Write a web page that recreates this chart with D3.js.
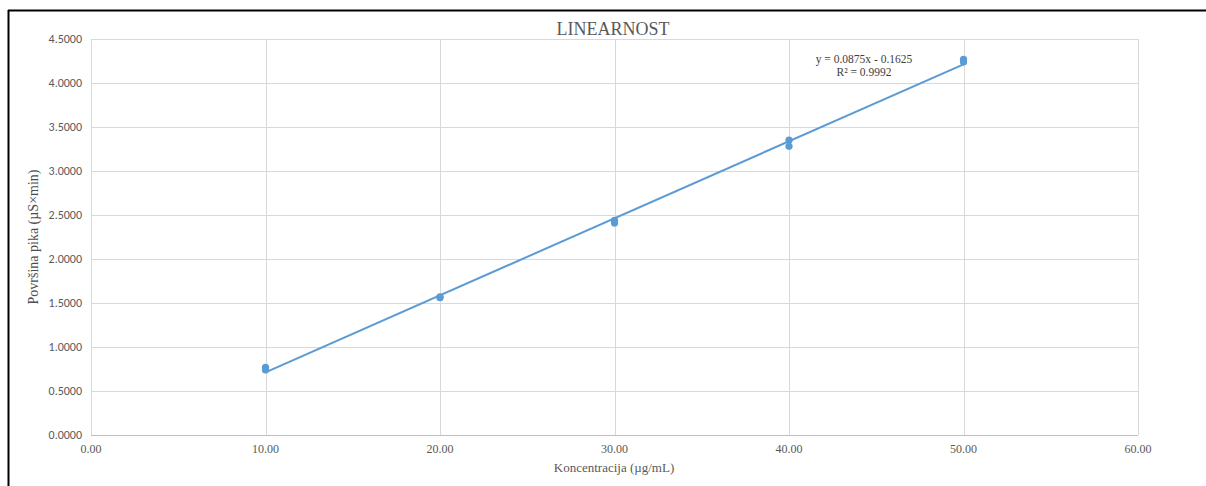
<!DOCTYPE html>
<html>
<head>
<meta charset="utf-8">
<script src="https://cdn.jsdelivr.net/npm/d3@7/dist/d3.min.js"></script>
<style>
  body { margin: 0; background: #fff; }
  svg { display: block; }
</style>
</head>
<body>
<div id="chart"></div>
<script>
// measured points (concentration, peak area)
const conc = [10, 10, 20, 20, 30, 30, 40, 40, 50, 50];
const area = [0.77, 0.74, 1.57, 1.56, 2.44, 2.41, 3.35, 3.28, 4.27, 4.24];
const slope = 0.0875;
const intercept = -0.1625;
const eqText = ["y = 0.0875x - 0.1625", "R\u00b2 = 0.9992"];
const xTicks = [0, 10, 20, 30, 40, 50, 60];
const yTicks = [0, 0.5, 1, 1.5, 2, 2.5, 3, 3.5, 4, 4.5];

const W = 1206, H = 486;
const plotL = 91, plotR = 1138, plotT = 39, plotB = 435;

var svg = d3.select("#chart").append("svg")
  .attr("width", W).attr("height", H);

// frame (top + left border)
svg.append("line").attr("x1", 8).attr("x2", W).attr("y1", 10.5).attr("y2", 10.5)
  .attr("stroke", "#000").attr("stroke-width", 2);
svg.append("line").attr("x1", 8.5).attr("x2", 8.5).attr("y1", 10).attr("y2", H)
  .attr("stroke", "#000").attr("stroke-width", 2);

var x = d3.scaleLinear().domain([0, 60]).range([plotL, plotR]);
var y = d3.scaleLinear().domain([0, 4.5]).range([plotB, plotT]);

// gridlines
svg.append("g").selectAll("line").data(yTicks).join("line")
  .attr("x1", plotL).attr("x2", plotR)
  .attr("y1", d => Math.round(y(d)) + 0.5).attr("y2", d => Math.round(y(d)) + 0.5)
  .attr("stroke", d => d === 0 ? "#bfbfbf" : "#d9d9d9").attr("stroke-width", 1);
svg.append("g").selectAll("line").data(xTicks).join("line")
  .attr("x1", d => Math.round(x(d)) + 0.5).attr("x2", d => Math.round(x(d)) + 0.5)
  .attr("y1", plotT).attr("y2", plotB)
  .attr("stroke", "#d9d9d9").attr("stroke-width", 1);

// tick labels
svg.append("g").selectAll("text").data(yTicks).join("text")
  .attr("x", 82).attr("y", d => y(d) + 4)
  .attr("text-anchor", "end")
  .attr("font-family", "Carlito, 'Liberation Sans', sans-serif")
  .attr("font-size", 12).attr("fill", "#595959")
  .text(d => d.toFixed(4));
svg.append("g").selectAll("text").data(xTicks).join("text")
  .attr("x", d => x(d)).attr("y", 453)
  .attr("text-anchor", "middle")
  .attr("font-family", "'Liberation Serif', 'Times New Roman', serif")
  .attr("font-size", 12).attr("fill", "#595959")
  .text(d => d.toFixed(2));

// trendline
var xExt = d3.extent(conc);
svg.append("line")
  .attr("x1", x(xExt[0])).attr("y1", y(slope * xExt[0] + intercept))
  .attr("x2", x(xExt[1])).attr("y2", y(slope * xExt[1] + intercept))
  .attr("stroke", "#5b9bd5").attr("stroke-width", 2);

// points
svg.append("g").selectAll("circle").data(conc).join("circle")
  .attr("cx", d => x(d)).attr("cy", (d, i) => y(area[i]))
  .attr("r", 3.6).attr("fill", "#5b9bd5");

// equation
svg.append("g").selectAll("text").data(eqText).join("text")
  .attr("x", 864).attr("y", (d, i) => 63 + i * 13)
  .attr("text-anchor", "middle")
  .attr("font-family", "'Liberation Serif', 'Times New Roman', serif")
  .attr("font-size", 11.5).attr("fill", "#404040")
  .text(d => d);

// title and axis titles
svg.append("text").attr("x", 613).attr("y", 35)
  .attr("text-anchor", "middle")
  .attr("font-family", "'Liberation Serif', 'Times New Roman', serif")
  .attr("font-size", 18).attr("fill", "#595959")
  .text("LINEARNOST");
svg.append("text").attr("x", 614).attr("y", 472)
  .attr("text-anchor", "middle")
  .attr("font-family", "'Liberation Serif', 'Times New Roman', serif")
  .attr("font-size", 13).attr("fill", "#595959")
  .text("Koncentracija (\u00b5g/mL)");
svg.append("text")
  .attr("transform", "translate(38," + ((plotT + plotB) / 2) + ") rotate(-90)")
  .attr("text-anchor", "middle")
  .attr("font-family", "'Liberation Serif', 'Times New Roman', serif")
  .attr("font-size", 14).attr("fill", "#4d4d4d")
  .text("Površina pika (\u00b5S\u00d7min)");
</script>
</body>
</html>
